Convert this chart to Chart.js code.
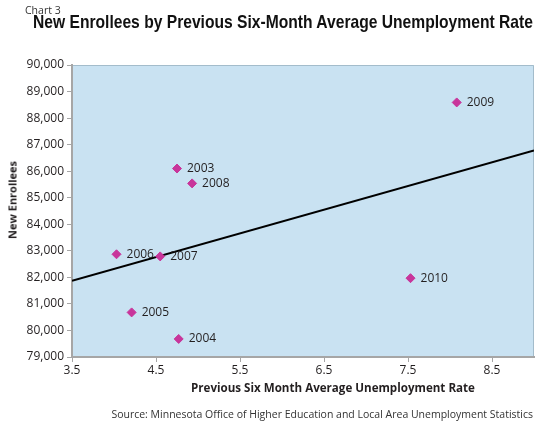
<!DOCTYPE html>
<html>
<head>
<meta charset="utf-8">
<script src="https://cdn.jsdelivr.net/npm/chart.js@4"></script>
<style>
  body { margin: 0; background: #fff; }
  #wrap { position: relative; width: 541px; height: 423px; overflow: hidden; font-family: 'Open Sans', sans-serif; color: #231f20; }
  #wrap div { position: absolute; white-space: nowrap; }
  #chartNo { left: 25px; top: 3px; font-size: 10.5px; color: #333; }
  #title { left: 33px; top: 11px; font-family: 'Liberation Sans', sans-serif; font-weight: bold; font-size: 18.5px; color: #111; transform-origin: 0 0; }
  #xTitle { left: 191px; top: 380px; font-size: 11.6px; font-weight: bold; }
  #yTitle { left: 12px; top: 200px; font-size: 11px; font-weight: bold; transform: translate(-50%, -50%) rotate(-90deg); }
  #source { right: 8px; top: 407px; font-size: 10.5px; color: #333; }
  canvas { position: absolute; left: 0; top: 0; }
</style>
</head>
<body>
<div id="wrap">
  <canvas id="scatterChart" width="541" height="423"></canvas>
  <div id="chartNo">Chart 3</div>
  <div id="title">New Enrollees by Previous Six-Month Average Unemployment Rate</div>
  <div id="yTitle">New Enrollees</div>
  <div id="xTitle">Previous Six Month Average Unemployment Rate</div>
  <div id="source">Source: Minnesota Office of Higher Education and Local Area Unemployment Statistics</div>
</div>
<script>
// Data
const years = ['2003', '2004', '2005', '2006', '2007', '2008', '2009', '2010'];
const unemployment = [4.75, 4.77, 4.21, 4.03, 4.55, 4.93, 8.08, 7.53];
const enrollees = [86100, 79680, 80680, 82870, 82790, 85540, 88590, 81970];

// trend line end points
const trendX = [3.5, 9.0];
const trendY = [81870, 86780];

const xTicks = [3.5, 4.5, 5.5, 6.5, 7.5, 8.5];

const colors = {
    plotBg: '#c9e2f2',
    plotEdge: '#a3bccb',
    axis: '#a6a6a6',
    marker: '#c8359b',
    text: '#231f20'
};

// squeeze the title into the condensed width of the original
const titleEl = document.getElementById('title');
titleEl.style.transform = 'scaleX(' + (500 / titleEl.offsetWidth) + ')';

// plot background + thin top/right frame
const plotFrame = {
    id: 'plotFrame',
    beforeDraw(chart) {
        const { ctx, chartArea: a } = chart;
        ctx.save();
        ctx.fillStyle = colors.plotBg;
        ctx.fillRect(a.left, a.top, a.right - a.left, a.bottom - a.top);
        ctx.strokeStyle = colors.plotEdge;
        ctx.lineWidth = 1;
        ctx.beginPath();
        ctx.moveTo(a.left, a.top + 0.5);
        ctx.lineTo(a.right - 0.5, a.top + 0.5);
        ctx.lineTo(a.right - 0.5, a.bottom);
        ctx.stroke();
        ctx.restore();
    }
};

// year labels next to each point
const yearLabels = {
    id: 'yearLabels',
    afterDatasetsDraw(chart) {
        const { ctx } = chart;
        const meta = chart.getDatasetMeta(0);
        ctx.save();
        ctx.font = "12px 'Open Sans', sans-serif";
        ctx.fillStyle = colors.text;
        ctx.textBaseline = 'middle';
        meta.data.forEach((pt, i) => {
            ctx.fillText(years[i], pt.x + 10, pt.y);
        });
        ctx.restore();
    }
};

const ctx = document.getElementById('scatterChart').getContext('2d');
new Chart(ctx, {
    type: 'scatter',
    data: {
        datasets: [{
            label: 'Enrollees',
            data: unemployment.map((u, i) => ({ x: u, y: enrollees[i] })),
            pointStyle: 'rectRot',
            pointRadius: 4.5,
            borderWidth: 1,
            backgroundColor: colors.marker,
            borderColor: colors.marker
        }, {
            type: 'line',
            label: 'Trend',
            data: trendX.map((x, i) => ({ x: x, y: trendY[i] })),
            borderColor: '#000',
            borderWidth: 2,
            pointRadius: 0,
            fill: false
        }]
    },
    options: {
        responsive: false,
        animation: false,
        layout: { padding: { left: 0, top: 65, right: 7, bottom: 46 } },
        plugins: {
            legend: { display: false },
            tooltip: { enabled: false }
        },
        scales: {
            x: {
                type: 'linear',
                min: 3.5,
                max: 9,
                afterBuildTicks: (scale) => { scale.ticks = xTicks.map(v => ({ value: v })); },
                afterFit: (scale) => { scale.height = 20; },
                grid: { drawOnChartArea: false, tickLength: 5, color: colors.axis },
                border: { color: colors.axis, width: 2 },
                ticks: {
                    color: colors.text,
                    padding: 1,
                    font: { family: "'Open Sans', sans-serif", size: 12 },
                    callback: (val) => val.toFixed(1)
                }
            },
            y: {
                min: 79000,
                max: 90000,
                afterFit: (scale) => { scale.width = 72; },
                grid: { drawOnChartArea: false, tickLength: 5, color: colors.axis },
                border: { color: colors.axis, width: 2 },
                ticks: {
                    stepSize: 1000,
                    color: colors.text,
                    padding: 3,
                    font: { family: "'Open Sans', sans-serif", size: 12 },
                    callback: (val) => val.toLocaleString('en-US')
                }
            }
        }
    },
    plugins: [plotFrame, yearLabels]
});
</script>
</body>
</html>
